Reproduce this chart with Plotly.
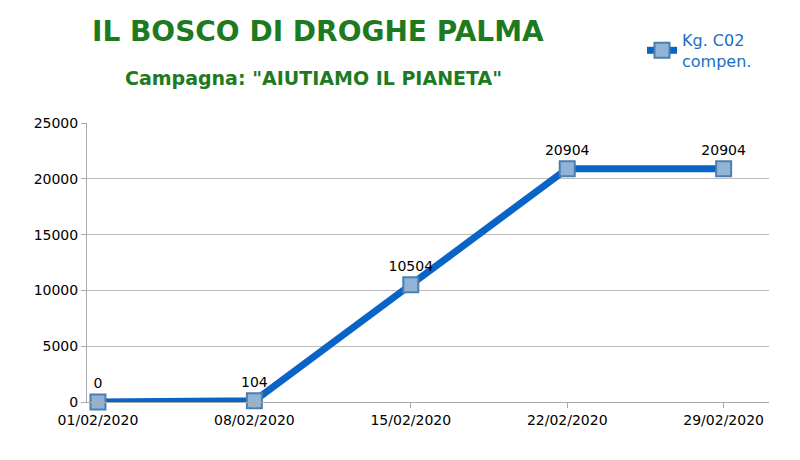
import plotly.graph_objects as go

dates = ["01/02/2020", "08/02/2020", "15/02/2020", "22/02/2020", "29/02/2020"]
values = [0, 104, 10504, 20904, 20904]
idx = list(range(len(dates)))

OFF = 7
L, R, T, B = 86 - OFF, 32 + OFF, 122 - OFF, 59 + OFF
W, H = 800, 460
pw, ph = W - L - R, H - T - B
def px(x): return (x - OFF - L) / pw
def py(y): return (H - (y - OFF) - B) / ph

fig = go.Figure()
fig.add_trace(go.Scatter(
    x=idx, y=values, mode="lines+markers+text", name="Kg. C02<br>compen.",
    line=dict(color="#0a64c8", width=7),
    marker=dict(symbol="square", size=15, color="#8fb4d8", line=dict(color="#4d7fae", width=2)),
    text=[str(v) for v in values], textposition="top center",
    textfont=dict(family="DejaVu Sans", size=14, color="black"),
    cliponaxis=False,
))
fig.update_layout(
    width=W, height=H, paper_bgcolor="white", plot_bgcolor="white",
    margin=dict(l=L, r=R, t=T, b=B, autoexpand=False),
    font=dict(family="DejaVu Sans", color="black"),
    showlegend=True,
    xaxis=dict(tickmode="array", tickvals=idx, ticktext=dates, range=[-0.07, 4.29],
               showline=True, linecolor="#aaaaaa", ticks="outside", tickcolor="#aaaaaa",
               showgrid=False, tickfont=dict(size=14), zeroline=False, automargin=False),
    yaxis=dict(range=[0, 25000], tickvals=[0, 5000, 10000, 15000, 20000, 25000], tickformat="d",
               showline=True, linecolor="#aaaaaa", gridcolor="#bbbbbb", ticks="outside",
               tickcolor="#aaaaaa", tickfont=dict(size=14), zeroline=False, automargin=False),
    legend=dict(x=px(641), y=py(22), xanchor="left", yanchor="top", bgcolor="rgba(0,0,0,0)",
                font=dict(family="DejaVu Sans", size=16, color="#1a6fc4")),
    annotations=[
        dict(text="<b>IL BOSCO DI DROGHE PALMA</b>", x=px(317), y=py(31), xref="paper", yref="paper",
             xanchor="center", yanchor="middle",
             showarrow=False, font=dict(family="DejaVu Sans", size=28, color="#1e7a1e")),
        dict(text='<b>Campagna: "AIUTIAMO IL PIANETA"</b>', x=px(312), y=py(77), xref="paper", yref="paper",
             xanchor="center", yanchor="middle",
             showarrow=False, font=dict(family="DejaVu Sans", size=19, color="#1e7a1e")),
    ],
)
fig.write_html("out.html")
